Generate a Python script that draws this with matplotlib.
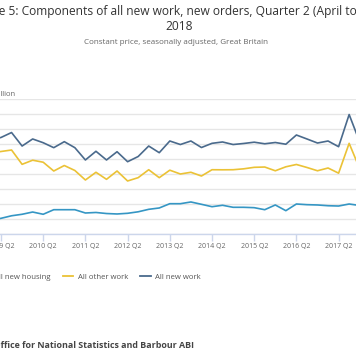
import matplotlib
matplotlib.use("Agg")
import matplotlib.pyplot as plt
from matplotlib.lines import Line2D

plt.rcParams['font.family'] = ['Open Sans', 'DejaVu Sans']

# Quarters from 2009 Q1 to 2018 Q2
quarters = [f"{y} Q{q}" for y in range(2009, 2019) for q in range(1, 5)][:38]

all_new_housing = [1870, 2090, 2430, 2630, 2930, 2630, 3240, 3240, 3240, 2800,
                   2870, 2730, 2670, 2760, 2960, 3290, 3470, 4040, 4040, 4270,
                   3960, 3640, 3830, 3560, 3560, 3510, 3240, 3870, 3110, 4000,
                   3910, 3870, 3770, 3730, 4000, 3800, 3870, 3930]
all_other_work = [10800, 11000, 11200, 9290, 9840, 9570, 8400, 9130, 8470, 7200,
                  8230, 7290, 8400, 7070, 7510, 8570, 7510, 8510, 8000, 8230,
                  7730, 8570, 8560, 8570, 8690, 8890, 8930, 8430, 8960, 9270,
                  8870, 8430, 8800, 8110, 12090, 8700, 8930, 9200]
all_new_work = [12530, 12870, 13530, 11730, 12670, 12170, 11510, 12310, 11510, 9870,
                11030, 9870, 10970, 9640, 10330, 11730, 10840, 12400, 11930, 12400,
                11530, 12090, 12270, 11930, 12070, 12240, 12030, 12200, 11970, 13200,
                12670, 12130, 12400, 11640, 15930, 12270, 12530, 12800]

series_names = ["All new housing", "All other work", "All new work"]
series_colors = ["#3596c4", "#ebc236", "#4a6a8c"]

tick_labels = [f"{y} Q2" for y in range(2009, 2019)]
y_ticks = list(range(0, 18001, 2000))

W, H = 356, 364
fig = plt.figure(figsize=(W / 100, H / 100), dpi=100)
fig.patch.set_facecolor("white")

# pixel mapping: quarter index i -> x_px = a + b*i
a, b = -9.55, 10.55
L, R = -30, 400
top_px, bot_px = 99, 234
ax = fig.add_axes([L / W, (H - bot_px) / H, (R - L) / W, (bot_px - top_px) / H])
ax.set_xlim((L - a) / b, (R - a) / b)
ax.set_ylim(0, 18000)

x = list(range(len(quarters)))
for vals, name, col in zip([all_new_housing, all_other_work, all_new_work], series_names, series_colors):
    ax.plot(x, vals, color=col, lw=1.2, label=name, solid_joinstyle='round', zorder=3)

ax.set_yticks(y_ticks)
ax.yaxis.grid(True, color="#e6e6e6", lw=1.0)
ax.tick_params(axis='y', length=0, labelleft=False)
for s in ['top', 'left', 'right']:
    ax.spines[s].set_visible(False)
ax.spines['bottom'].set_color("#ccd6eb")
ax.spines['bottom'].set_linewidth(1.0)
ax.set_xticks([quarters.index(t) for t in tick_labels])
ax.set_xticklabels(tick_labels)
ax.tick_params(axis='x', length=5, width=1.0, color="#ccd6eb", labelcolor="#666666",
               labelsize=5, pad=1.2)
ax.set_axisbelow(True)

def fx(px):
    return px / W

def fy(py):
    return 1 - py / H

fig.text(fx(179.3), fy(12), "Figure 5: Components of all new work, new orders, Quarter 2 (April to June)",
         ha='center', va='center', fontsize=8.65, color="#333333")
fig.text(fx(179.3), fy(26), "2018", ha='center', va='center', fontsize=8.65, color="#333333")
fig.text(fx(176.5), fy(43), "Constant price, seasonally adjusted, Great Britain",
         ha='center', va='center', fontsize=5.75, color="#666666")
fig.text(fx(15), fy(95), "£ million", ha='right', va='center', fontsize=5.5, color="#666666")

handles = [Line2D([], [], color=c, lw=1.3) for c in series_colors]
fig.legend(handles, series_names, loc='center', bbox_to_anchor=(fx(90), fy(277)), ncol=3,
           frameon=False, fontsize=5.6, labelcolor="#555555", handlelength=1.3,
           handletextpad=0.6, columnspacing=1.6)

fig.text(fx(-41), fy(346), "Source: Office for National Statistics and Barbour ABI",
         ha='left', va='center', fontsize=6.4, color="#444444", fontweight='bold')

fig.savefig("out.png", dpi=100)
